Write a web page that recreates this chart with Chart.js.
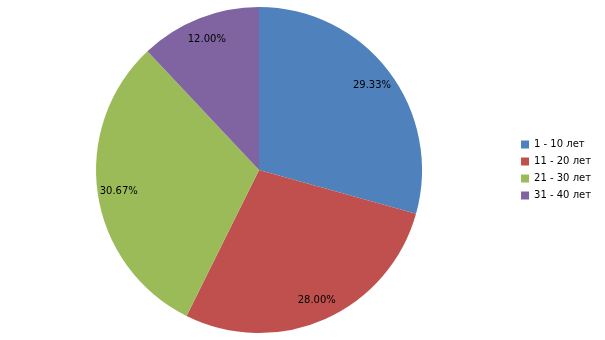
<!DOCTYPE html>
<html>
<head>
<meta charset="utf-8">
<script src="https://cdn.jsdelivr.net/npm/chart.js@4"></script>
<style>
  html, body { margin: 0; padding: 0; background: #fff; }
  #wrap { width: 605px; height: 340px; }
</style>
</head>
<body>
<div id="wrap"><canvas id="pieChart"></canvas></div>
<script>
// categories and values
const categories = ['1 - 10 лет', '11 - 20 лет', '21 - 30 лет', '31 - 40 лет'];
const shares = [29.33, 28.00, 30.67, 12.00];
const sliceColors = ['#4F81BD', '#C0504D', '#9BBB59', '#8064A2'];

// draws the percent labels inside each slice
const sliceLabels = {
    id: 'sliceLabels',
    afterDatasetsDraw(chart) {
        const ctx = chart.ctx;
        const meta = chart.getDatasetMeta(0);
        ctx.save();
        ctx.font = '10px "DejaVu Sans"';
        ctx.fillStyle = '#000';
        ctx.textAlign = 'center';
        ctx.textBaseline = 'middle';
        meta.data.forEach((arc, i) => {
            const p = arc.getProps(['x', 'y', 'startAngle', 'endAngle', 'outerRadius'], true);
            const mid = (p.startAngle + p.endAngle) / 2;
            const r = p.outerRadius * 0.87;
            ctx.fillText(shares[i].toFixed(2) + '%', p.x + Math.cos(mid) * r, p.y + Math.sin(mid) * r + 1);
        });
        ctx.restore();
    }
};

const ctx = document.getElementById('pieChart').getContext('2d');
const pieChart = new Chart(ctx, {
    type: 'pie',
    data: {
        labels: categories,
        datasets: [{
            data: shares,
            backgroundColor: sliceColors,
            borderWidth: 0
        }]
    },
    options: {
        responsive: true,
        maintainAspectRatio: false,
        animation: false,
        layout: { padding: { top: 7, bottom: 7, left: 4, right: 4 } },
        plugins: {
            legend: {
                position: 'right',
                labels: {
                    boxWidth: 8,
                    boxHeight: 8,
                    padding: 7,
                    color: '#000',
                    font: { family: 'DejaVu Sans', size: 10 }
                }
            },
            tooltip: { enabled: false }
        }
    },
    plugins: [sliceLabels]
});
</script>
</body>
</html>
